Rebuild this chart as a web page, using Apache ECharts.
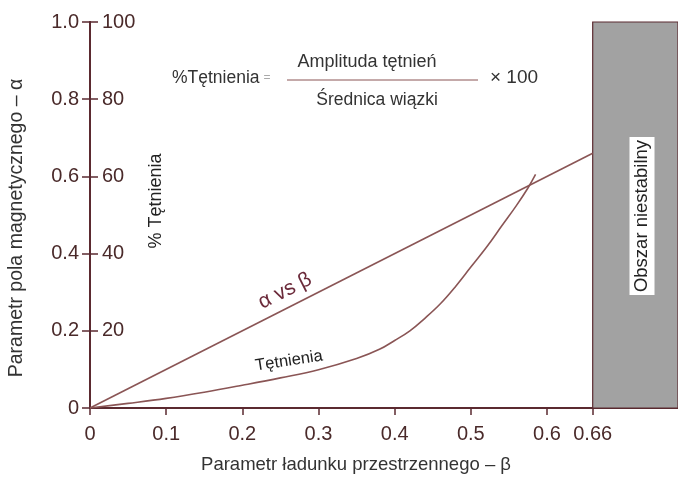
<!DOCTYPE html>
<html><head><meta charset="utf-8">
<script src="https://cdn.jsdelivr.net/npm/echarts@6/dist/echarts.min.js"></script>
<style>html,body{margin:0;padding:0;background:#fff}#c{width:678px;height:477px}</style>
</head><body><div id="c"></div>
<script>
// ---- data ----
const betaTicks = [0, 0.1, 0.2, 0.3, 0.4, 0.5, 0.6, 0.66];
const alphaTicks = [0, 0.2, 0.4, 0.6, 0.8, 1.0];
const rippleTicks = [0, 20, 40, 60, 80, 100];
const alphaBeta = [0, 0.66];
const alphaValues = [0, 0.66];
const rippleBeta = [0, 0.05, 0.1, 0.15, 0.2, 0.25, 0.3, 0.35, 0.38, 0.4, 0.42, 0.44, 0.46, 0.48, 0.5, 0.52, 0.54, 0.56, 0.575, 0.585];
const rippleValues = [0, 1.2, 2.5, 4.1, 5.9, 7.8, 9.9, 12.8, 15.2, 17.5, 20, 23.3, 27, 31.5, 36.5, 41.5, 47, 52.5, 57, 60.5];
const unstableRange = [0.66, 0.772];

const AX = '#5b2a30';
const LBL = '#4a2a2a';
const LINE = '#8a5555';
const FONT = '"Liberation Sans", Arial, sans-serif';

const chart = echarts.init(document.getElementById('c'));
const fmtBeta = v => v === 0 ? '0' : String(Math.round(v * 100) / 100);
chart.setOption({
  backgroundColor: '#fff',
  animation: false,
  grid: { left: 90, right: 0, top: 22, bottom: 69, containLabel: false },
  xAxis: {
    type: 'value', min: 0, max: unstableRange[1],
    splitLine: { show: false },
    axisLine: { lineStyle: { color: AX, width: 2 } },
    axisTick: { customValues: betaTicks, length: 7, lineStyle: { color: AX, width: 1.5 } },
    axisLabel: { customValues: betaTicks, formatter: fmtBeta, color: LBL, fontSize: 20, fontFamily: FONT, margin: 16 }
  },
  yAxis: [
    {
      type: 'value', min: 0, max: 1, interval: 0.2, position: 'left',
      splitLine: { show: false },
      axisLine: { show: true, lineStyle: { color: AX, width: 2 } },
      axisTick: { show: true, length: 8, lineStyle: { color: AX, width: 1.5 } },
      axisLabel: { formatter: v => v === 0 ? '0' : v.toFixed(1), color: LBL, fontSize: 20, fontFamily: FONT, margin: 11 }
    },
    {
      type: 'value', min: 0, max: 100, interval: 20, position: 'left', offset: 0,
      splitLine: { show: false },
      axisLine: { show: true, lineStyle: { color: AX, width: 2 } },
      axisTick: { show: true, inside: true, length: 8, lineStyle: { color: AX, width: 1.5 } },
      axisLabel: { inside: true, formatter: v => v === 0 ? '' : String(v), color: LBL, fontSize: 20, fontFamily: FONT, margin: 12 }
    }
  ],
  series: [
    {
      type: 'line', name: 'alpha', yAxisIndex: 0, symbol: 'none',
      data: alphaBeta.map((b, i) => [b, alphaValues[i]]),
      lineStyle: { color: LINE, width: 1.6 },
      markArea: {
        silent: true,
        itemStyle: { color: '#a2a2a2', borderColor: AX, borderWidth: 1.2 },
        data: [[{ xAxis: unstableRange[0], yAxis: 0 }, { xAxis: unstableRange[1], yAxis: 1 }]]
      }
    },
    {
      type: 'line', name: 'ripple', yAxisIndex: 1, symbol: 'none', smooth: 0.4,
      data: rippleBeta.map((b, i) => [b, rippleValues[i]]),
      lineStyle: { color: LINE, width: 1.6 }
    }
  ],
  graphic: [
    { type: 'text', x: 17, y: 228, rotation: Math.PI / 2,
      style: { text: 'Parametr pola magnetycznego – α', fill: '#333', font: '19.5px ' + FONT, textAlign: 'center', textVerticalAlign: 'middle' } },
    { type: 'text', x: 356, y: 465,
      style: { text: 'Parametr ładunku przestrzennego – β', fill: '#333', font: '18.5px ' + FONT, textAlign: 'center', textVerticalAlign: 'middle' } },
    { type: 'text', x: 156, y: 201, rotation: Math.PI / 2,
      style: { text: '% Tętnienia', fill: '#222', font: '18px ' + FONT, textAlign: 'center', textVerticalAlign: 'middle' } },
    { type: 'text', x: 642, y: 216, rotation: Math.PI / 2, z: 100,
      style: { text: 'Obszar niestabilny', fill: '#222', font: '18.5px ' + FONT, textAlign: 'center', textVerticalAlign: 'middle', backgroundColor: '#fff', padding: [3, 3, 3, 3] } },
    { type: 'text', x: 285, y: 291, rotation: 0.47,
      style: { text: 'α vs β', fill: '#6b2a3a', font: '21px ' + FONT, textAlign: 'center', textVerticalAlign: 'middle' } },
    { type: 'text', x: 289, y: 361, rotation: 0.15,
      style: { text: 'Tętnienia', fill: '#222', font: '16.5px ' + FONT, textAlign: 'center', textVerticalAlign: 'middle' } },
    { type: 'text', x: 172, y: 78,
      style: { text: '%Tętnienia', fill: '#333', font: '17.5px ' + FONT, textAlign: 'left', textVerticalAlign: 'middle' } },
    { type: 'text', x: 267, y: 78,
      style: { text: '=', fill: '#aaa', font: '12px ' + FONT, textAlign: 'center', textVerticalAlign: 'middle' } },
    { type: 'text', x: 367, y: 62,
      style: { text: 'Amplituda tętnień', fill: '#333', font: '18px ' + FONT, textAlign: 'center', textVerticalAlign: 'middle' } },
    { type: 'line', shape: { x1: 287, y1: 80, x2: 478, y2: 80 }, style: { stroke: '#8a5555', lineWidth: 1 } },
    { type: 'text', x: 377, y: 100,
      style: { text: 'Średnica wiązki', fill: '#333', font: '17.5px ' + FONT, textAlign: 'center', textVerticalAlign: 'middle' } },
    { type: 'text', x: 490, y: 78,
      style: { text: '× 100', fill: '#333', font: '19px ' + FONT, textAlign: 'left', textVerticalAlign: 'middle' } }
  ]
});
</script></body></html>
